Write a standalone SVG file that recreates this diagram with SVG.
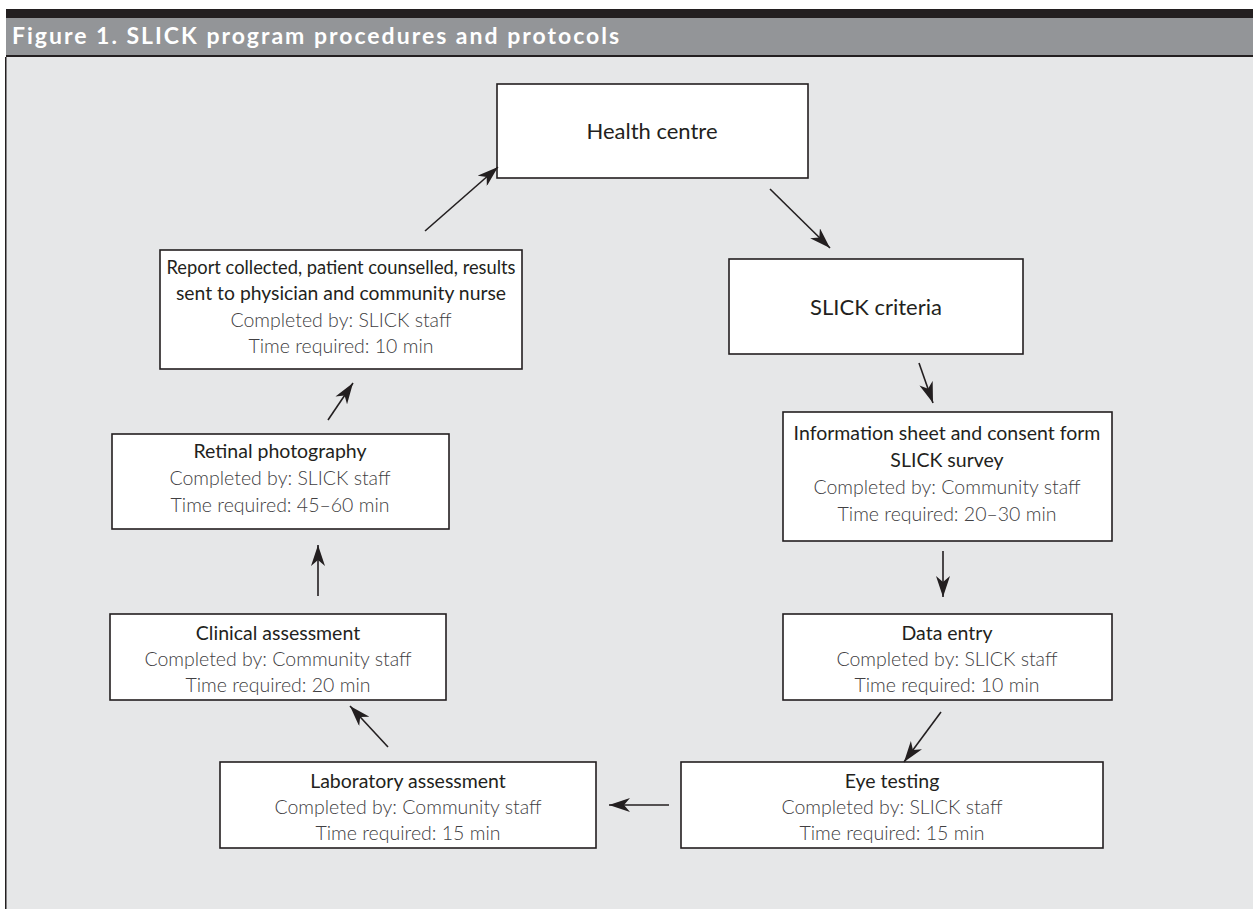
<svg xmlns="http://www.w3.org/2000/svg" width="1253" height="909" viewBox="0 0 1253 909">
<style>
.box{fill:#fff;stroke:#231f20;stroke-width:1.6}
.h{font-family:Lato,"Open Sans",sans-serif;font-size:19.5px;fill:#231f20;text-anchor:middle}
.b{font-family:Lato,"Open Sans",sans-serif;font-size:22px;fill:#231f20;text-anchor:middle}
.s{font-family:Lato,"Open Sans",sans-serif;font-size:19.5px;font-weight:300;fill:#414042;text-anchor:middle}
.c{stroke:#231f20;stroke-width:1.6;fill:none;marker-end:url(#ah)}
</style>
<defs>
<marker id="ah" markerUnits="userSpaceOnUse" markerWidth="24" markerHeight="14" refX="21" refY="7" orient="auto">
<path d="M0,0 L21,7 L0,14 L6,7 z" fill="#231f20"/>
</marker>
</defs>
<rect x="0" y="0" width="1253" height="909" fill="#fff"/>
<rect x="6" y="9" width="1247" height="9" fill="#231f20"/>
<rect x="6" y="18" width="1247" height="37" fill="#939598"/>
<rect x="6" y="55" width="1247" height="2" fill="#231f20"/>
<rect x="6" y="57" width="1247" height="852" fill="#e6e7e8"/>
<rect x="5" y="57" width="1.5" height="852" fill="#231f20"/>
<text x="12" y="44" font-family="Lato,'Open Sans',sans-serif" font-size="23" font-weight="bold" fill="#fff" letter-spacing="2">Figure 1. SLICK program procedures and protocols</text>

<g id="health-centre">
<rect class="box" x="497" y="84" width="311" height="94"/>
<text class="b" x="652" y="139">Health centre</text>
</g>
<g id="slick-criteria">
<rect class="box" x="729" y="259" width="294" height="95"/>
<text class="b" x="876" y="315">SLICK criteria</text>
</g>
<g id="information-sheet">
<rect class="box" x="783" y="412" width="329" height="129"/>
<text class="h" x="947" y="440">Information sheet and consent form</text>
<text class="h" x="947" y="467">SLICK survey</text>
<text class="s" x="947" y="494">Completed by: Community staff</text>
<text class="s" x="947" y="521">Time required: 20–30 min</text>
</g>
<g id="data-entry">
<rect class="box" x="783" y="614" width="329" height="86"/>
<text class="h" x="947" y="640">Data entry</text>
<text class="s" x="947" y="666">Completed by: SLICK staff</text>
<text class="s" x="947" y="692">Time required: 10 min</text>
</g>
<g id="eye-testing">
<rect class="box" x="681" y="762" width="422" height="86"/>
<text class="h" x="892" y="788">Eye testing</text>
<text class="s" x="892" y="814">Completed by: SLICK staff</text>
<text class="s" x="892" y="840">Time required: 15 min</text>
</g>
<g id="laboratory-assessment">
<rect class="box" x="220" y="762" width="376" height="86"/>
<text class="h" x="408" y="788">Laboratory assessment</text>
<text class="s" x="408" y="814">Completed by: Community staff</text>
<text class="s" x="408" y="840">Time required: 15 min</text>
</g>
<g id="clinical-assessment">
<rect class="box" x="110" y="614" width="336" height="86"/>
<text class="h" x="278" y="640">Clinical assessment</text>
<text class="s" x="278" y="666">Completed by: Community staff</text>
<text class="s" x="278" y="692">Time required: 20 min</text>
</g>
<g id="retinal-photography">
<rect class="box" x="112" y="434" width="337" height="95"/>
<text class="h" x="280" y="458">Retinal photography</text>
<text class="s" x="280" y="485">Completed by: SLICK staff</text>
<text class="s" x="280" y="512">Time required: 45–60 min</text>
</g>
<g id="report-collected">
<rect class="box" x="160" y="250" width="362" height="119"/>
<text class="h" x="341" y="274" textLength="349" lengthAdjust="spacingAndGlyphs">Report collected, patient counselled, results</text>
<text class="h" x="341" y="300" textLength="330" lengthAdjust="spacingAndGlyphs">sent to physician and community nurse</text>
<text class="s" x="341" y="327">Completed by: SLICK staff</text>
<text class="s" x="341" y="353">Time required: 10 min</text>
</g>

<g id="connectors">
<line class="c" x1="425" y1="231" x2="498" y2="167"/>
<line class="c" x1="770" y1="189" x2="830" y2="248"/>
<line class="c" x1="919" y1="363" x2="933" y2="403"/>
<line class="c" x1="943" y1="551" x2="943" y2="597"/>
<line class="c" x1="941" y1="712" x2="904" y2="762"/>
<line class="c" x1="669" y1="805" x2="609" y2="805"/>
<line class="c" x1="388" y1="747" x2="350" y2="706"/>
<line class="c" x1="318" y1="596" x2="318" y2="545"/>
<line class="c" x1="328" y1="420" x2="353" y2="383"/>
</g>
</svg>
